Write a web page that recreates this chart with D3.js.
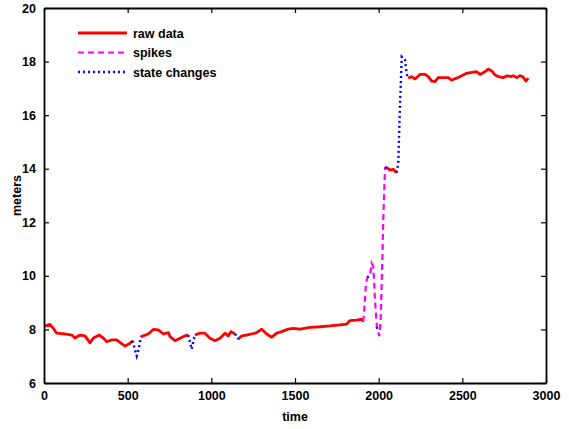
<!DOCTYPE html>
<html>
<head>
<meta charset="utf-8">
<script src="https://cdn.jsdelivr.net/npm/d3@7"></script>
<style>
  body { margin: 0; background: #fff; }
  svg text { font-family: "Liberation Sans", Arial, sans-serif; font-weight: bold; }
</style>
</head>
<body>
<svg id="chart" width="569" height="429"></svg>
<script>
// raw data (null breaks the line where another series takes over)
const rawTime = [6, 36, 56, 76, 125, 166, 185, 215, 245, 275, 295, 330, 354, 375, 405, 434, 454, 484, 514, 530,
  null,
  578, 593, 623, 653, 683, 713, 743, 753, 783, 813, 843, 862,
  null,
  902, 932, 962, 992, 1022, 1052, 1082, 1101, 1118, 1141,
  null,
  1161, 1181, 1211, 1241, 1271, 1301, 1331, 1361, 1391, 1420, 1460, 1490, 1530, 1590, 1649, 1709, 1769, 1809, 1829, 1869, 1899, 1908,
  null,
  2048, 2068, 2087, 2107,
  null,
  2177, 2197, 2217, 2247, 2277, 2297, 2317, 2337, 2356, 2386, 2416, 2436, 2466, 2496, 2526, 2556, 2586, 2606, 2635, 2655, 2675, 2695, 2715, 2745, 2769, 2789, 2805, 2825, 2845, 2861, 2880, 2894];
const rawMeters = [8.13, 8.19, 8.04, 7.86, 7.83, 7.79, 7.68, 7.79, 7.76, 7.50, 7.68, 7.79, 7.68, 7.54, 7.61, 7.61, 7.52, 7.38, 7.48, 7.58,
  null,
  7.73, 7.76, 7.83, 8.00, 7.98, 7.83, 7.88, 7.73, 7.58, 7.67, 7.76, 7.79,
  null,
  7.79, 7.86, 7.86, 7.67, 7.58, 7.67, 7.86, 7.76, 7.92, 7.83,
  null,
  7.63, 7.76, 7.79, 7.83, 7.88, 8.01, 7.83, 7.71, 7.86, 7.92, 8.01, 8.04, 8.01, 8.08, 8.10, 8.13, 8.17, 8.20, 8.33, 8.35, 8.38, 8.29,
  null,
  14.05, 13.95, 13.98, 13.85,
  null,
  17.38, 17.44, 17.35, 17.52, 17.52, 17.44, 17.27, 17.25, 17.40, 17.40, 17.40, 17.31, 17.38, 17.47, 17.56, 17.60, 17.62, 17.52, 17.62, 17.72, 17.65, 17.50, 17.44, 17.40, 17.47, 17.44, 17.47, 17.40, 17.47, 17.44, 17.27, 17.38];

// spikes
const spikeTime = [1908, 1916, 1924, 1934, 1948, 1958, 1968, 1978, 1990, 2004, 2012, 2018, 2028, 2038, 2048];
const spikeMeters = [8.29, 8.9, 9.72, 9.95, 10.00, 10.47, 10.34, 9.10, 8.05, 7.75, 8.4, 9.72, 12.21, 14.02, 14.08];

// state changes
const stateTime = [530, 544, 554, 568, 578,
  null,
  862, 872, 883, 892, 902,
  null,
  1141, 1152, 1161,
  null,
  1932, 1940,
  null,
  1988, 1994,
  null,
  2040, 2050,
  null,
  2107, 2117, 2127, 2138, 2157, 2167, 2177];
const stateMeters = [7.58, 7.23, 7.01, 7.31, 7.73,
  null,
  7.79, 7.54, 7.26, 7.54, 7.79,
  null,
  7.83, 7.76, 7.63,
  null,
  9.95, 9.98,
  null,
  8.10, 8.00,
  null,
  14.0, 14.1,
  null,
  13.85, 14.2, 16.32, 18.18, 18.06, 17.56, 17.36];

const xTicks = [0, 500, 1000, 1500, 2000, 2500, 3000];
const yTicks = [6, 8, 10, 12, 14, 16, 18, 20];
const legendLabels = ['raw data', 'spikes', 'state changes'];

const svg = d3.select('#chart');
const plotL = 44, plotR = 546, plotT = 8, plotB = 383;

const x = d3.scaleLinear().domain([0, 3000]).range([plotL, plotR]);
const y = d3.scaleLinear().domain([6, 20]).range([plotB, plotT]);

const toPts = (ts, vs) => ts.map((t, i) => [t, vs[i]]);
const line = d3.line()
  .defined(d => d[0] != null && d[1] != null)
  .x(d => x(d[0])).y(d => y(d[1]));

// series
svg.append('path').attr('d', line(toPts(rawTime, rawMeters)))
  .attr('fill', 'none').attr('stroke', '#ff0000').attr('stroke-width', 2.8)
  .attr('stroke-linejoin', 'round');
svg.append('path').attr('d', line(toPts(spikeTime, spikeMeters)))
  .attr('fill', 'none').attr('stroke', '#ff00ff').attr('stroke-width', 2.2)
  .attr('stroke-dasharray', '6,4');
svg.append('path').attr('d', line(toPts(stateTime, stateMeters)))
  .attr('fill', 'none').attr('stroke', '#0000ff').attr('stroke-width', 2.4)
  .attr('stroke-dasharray', '2,3');

// axes (MATLAB style box, ticks pointing in)
const ax = svg.append('g');
ax.append('g').attr('transform', `translate(0,${plotB})`)
  .call(d3.axisBottom(x).tickValues(xTicks).tickSizeInner(-5).tickSizeOuter(0).tickPadding(8).tickFormat(d3.format('d')));
ax.append('g').attr('transform', `translate(0,${plotT})`)
  .call(d3.axisTop(x).tickValues(xTicks).tickSizeInner(-5).tickSizeOuter(0).tickFormat(''));
ax.append('g').attr('transform', `translate(${plotL},0)`)
  .call(d3.axisLeft(y).tickValues(yTicks).tickSizeInner(-5).tickSizeOuter(0).tickPadding(8));
ax.append('g').attr('transform', `translate(${plotR},0)`)
  .call(d3.axisRight(y).tickValues(yTicks).tickSizeInner(-5).tickSizeOuter(0).tickFormat(''));
ax.selectAll('.domain').attr('stroke', '#000').attr('stroke-width', 1.8);
ax.selectAll('.tick line').attr('stroke', '#000').attr('stroke-width', 1.2);
ax.selectAll('.tick text').attr('font-size', 12.5).attr('fill', '#000')
  .attr('font-family', '"Liberation Sans", Arial, sans-serif').attr('font-weight', 'bold');

// axis titles
svg.append('text').attr('x', (plotL + plotR) / 2).attr('y', 421).attr('text-anchor', 'middle')
  .attr('font-size', 12.5).text('time');
svg.append('text').attr('transform', `translate(21,${(plotT + plotB) / 2}) rotate(-90)`)
  .attr('text-anchor', 'middle').attr('font-size', 12.5).text('meters');

// legend
const legend = svg.append('g').attr('transform', 'translate(78,33)');
const legendStyles = [
  {color: '#ff0000', dash: null, w: 2.8},
  {color: '#ff00ff', dash: '6,4', w: 2.2},
  {color: '#0000ff', dash: '2,3', w: 2.4}
];
legendLabels.forEach((lab, i) => {
  const g = legend.append('g').attr('transform', `translate(0,${i * 19.5})`);
  g.append('line').attr('x1', 0).attr('x2', 49).attr('y1', 0).attr('y2', 0)
    .attr('stroke', legendStyles[i].color).attr('stroke-width', legendStyles[i].w)
    .attr('stroke-dasharray', legendStyles[i].dash);
  g.append('text').attr('x', 55).attr('y', 4.5).attr('font-size', 12.5).text(lab);
});
</script>
</body>
</html>
